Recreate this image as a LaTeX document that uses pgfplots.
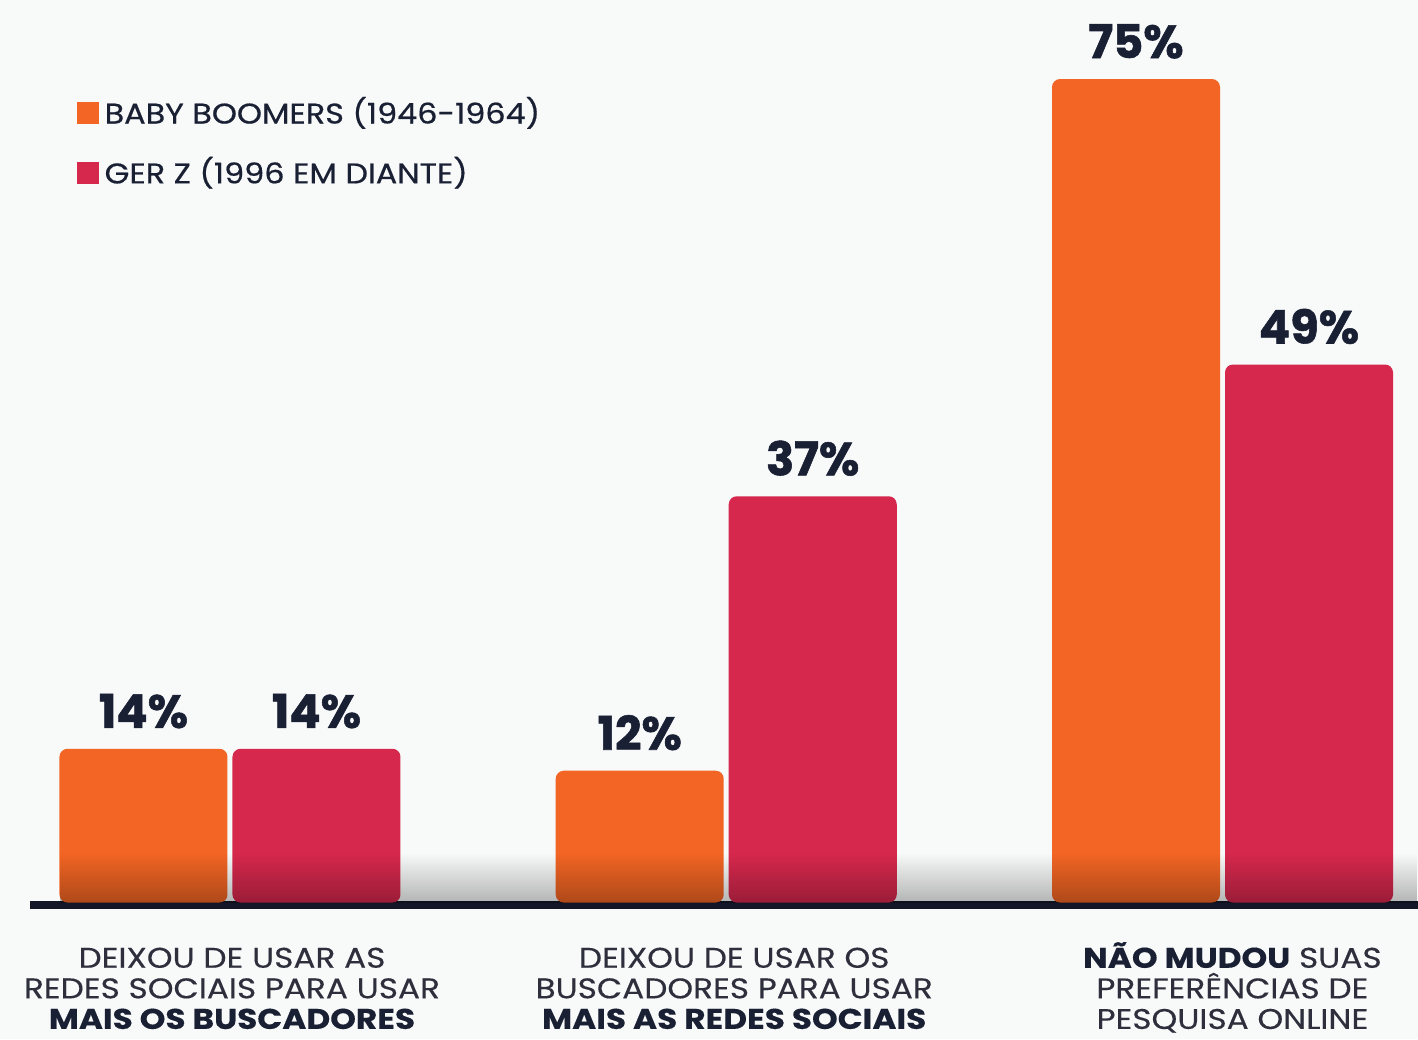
\documentclass[border=0pt]{standalone}
\usepackage{fontspec}
\setmainfont{Poppins}
\newfontfamily\catfont{Poppins}[FakeStretch=1.15, FakeBold=0.3]
\newfontfamily\legfont{Poppins}[FakeStretch=1.12, FakeBold=0.6]
\newfontfamily\valfont{Poppins}[BoldFeatures={FakeBold=1.2}]
\usepackage{pgfplots}
\usepackage{pgfplotstable}
\pgfplotsset{compat=1.18}
\usetikzlibrary{fadings}
\definecolor{bg}{RGB}{248,249,249}
\definecolor{boom}{RGB}{242,101,36}
\definecolor{genz}{RGB}{214,40,77}
\definecolor{navy}{RGB}{26,32,52}
\definecolor{txt}{RGB}{45,48,60}
\definecolor{base}{RGB}{20,22,40}

\pgfplotstableread{
x boom genz
0 14 14
1 12 37
2 75 49
}\data

\newcommand{\fl}{\vphantom{ÃÊ}}
\begin{document}
\begin{tikzpicture}
\useasboundingbox (0,0) rectangle (14.18,10.39);
\fill[bg] (0,0) rectangle (14.18,10.39);
\begin{axis}[
  at={(0.30cm,1.365cm)}, anchor=south west,
  scale only axis, width=13.88cm, height=9.025cm,
  xmin=-0.403, xmax=2.394, ymin=0, ymax=82.2,
  ybar=0.05cm, bar width=1.68cm,
  axis y line=none, axis x line*=bottom,
  x axis line style={draw=base, line width=0.08cm, yshift=-0.025cm},
  major tick length=0pt,
  xtick={0.004,1.016,2.02},
  xticklabels={{\fl DEIXOU DE USAR AS\\REDES SOCIAIS PARA USAR\\\textbf{\color{navy}MAIS OS BUSCADORES}},
               {\fl DEIXOU DE USAR OS\\BUSCADORES PARA USAR\\\textbf{\color{navy}MAIS AS REDES SOCIAIS}},
               {\fl\textbf{\color{navy}NÃO MUDOU} SUAS\\PREFERÊNCIAS DE\\PESQUISA ONLINE}},
  xticklabel style={align=center, font=\catfont\fontsize{8.1}{8.7}\selectfont, text=txt, anchor=north, yshift=-0.39cm, inner sep=0pt},
  nodes near coords={\pgfmathprintnumber[assume math mode=true]{\pgfplotspointmeta}\%},
  nodes near coords style={font=\valfont\fontsize{13.2}{14}\selectfont\bfseries, text=navy, anchor=base, yshift=0.21cm, inner sep=0pt},
  legend style={at={(0.0331,0.9)}, anchor=north west, draw=none, fill=none,
    font=\legfont\fontsize{8.1}{9}\selectfont, text=navy, row sep=0.16cm, inner sep=0pt,
    nodes={inner sep=0.06cm}},
  legend cell align=left,
  legend image code/.code={\fill[#1, sharp corners] (0cm,-0.11cm) rectangle (0.22cm,0.11cm);},
]
\addplot[fill=boom, draw=none, rounded corners=0.08cm] table[x=x,y=boom]{\data};
\addplot[fill=genz, draw=none, rounded corners=0.08cm] table[x=x,y=genz]{\data};
\legend{BABY BOOMERS (1946-1964), GER Z (1996 EM DIANTE)}
\end{axis}
\fill[black, path fading=north, fill opacity=0.28] (0.6,1.36) rectangle (14.18,1.86);
\end{tikzpicture}
\end{document}
